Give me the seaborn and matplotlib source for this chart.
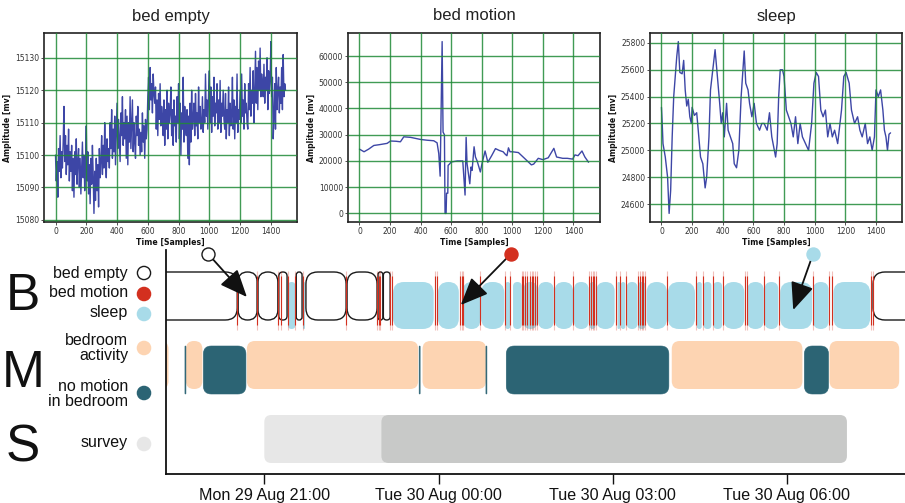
import numpy as np
import pandas as pd
import matplotlib
matplotlib.use("Agg")
import matplotlib.pyplot as plt
import matplotlib.dates as mdates
from matplotlib.patches import FancyBboxPatch
import seaborn as sns

# ------------------------------------------------------------------ data
# top panels: raw bed-sensor signals (sample index -> amplitude in mV)
EMPTY_STEP = 5
BED_EMPTY_SIG = [
    15100, 15092, 15098, 15087, 15102, 15095, 15106, 15093, 15101, 15096,
    15104, 15115, 15098, 15106, 15094, 15103, 15097, 15108, 15092, 15101,
    15095, 15103, 15089, 15099, 15087, 15101, 15094, 15105, 15091, 15098,
    15102, 15090, 15099, 15088, 15096, 15104, 15093, 15100, 15089, 15097,
    15109, 15092, 15101, 15088, 15097, 15085, 15099, 15091, 15103, 15094,
    15082, 15095, 15086, 15099, 15089, 15097, 15084, 15102, 15093, 15098,
    15106, 15094, 15103, 15096, 15110, 15099, 15093, 15105, 15098, 15102,
    15096, 15110, 15102, 15114, 15099, 15108, 15101, 15112, 15097, 15106,
    15116, 15102, 15111, 15104, 15098, 15113, 15106, 15118, 15103, 15110,
    15105, 15114, 15099, 15112, 15097, 15110, 15104, 15118, 15102, 15109,
    15117, 15101, 15110, 15104, 15099, 15112, 15106, 15115, 15103, 15108,
    15100, 15107, 15101, 15113, 15104, 15109, 15099, 15111, 15105, 15108,
    15118, 15124, 15114, 15127, 15117, 15122, 15113, 15125, 15119, 15116,
    15121, 15108, 15117, 15106, 15119, 15111, 15122, 15109, 15115, 15112,
    15106, 15117, 15103, 15114, 15108, 15120, 15105, 15116, 15110, 15113,
    15121, 15106, 15114, 15103, 15117, 15109, 15112, 15104, 15118, 15110,
    15122, 15105, 15116, 15100, 15113, 15108, 15124, 15104, 15115, 15109,
    15106, 15114, 15099, 15112, 15097, 15116, 15104, 15120, 15108, 15111,
    15116, 15106, 15119, 15109, 15113, 15105, 15121, 15110, 15115, 15108,
    15109, 15118, 15107, 15114, 15110, 15125, 15112, 15117, 15108, 15119,
    15126, 15110, 15121, 15107, 15118, 15112, 15124, 15109, 15116, 15113,
    15122, 15108, 15117, 15110, 15123, 15107, 15116, 15112, 15120, 15111,
    15108, 15119, 15105, 15114, 15110, 15121, 15106, 15116, 15109, 15113,
    15124, 15108, 15117, 15105, 15115, 15110, 15125, 15107, 15114, 15111,
    15120, 15110, 15125, 15112, 15117, 15108, 15122, 15113, 15116, 15110,
    15108, 15122, 15114, 15127, 15112, 15120, 15116, 15126, 15110, 15119,
    15132, 15116, 15127, 15114, 15129, 15120, 15133, 15118, 15125, 15122,
    15118, 15128, 15116, 15124, 15120, 15130, 15114, 15126, 15119, 15123,
    15135, 15118, 15124, 15105, 15112, 15122, 15108, 15127, 15114, 15120,
    15124, 15113, 15121, 15116, 15127, 15114, 15131, 15118, 15122, 15120,
]

BED_MOTION_T = [
    0, 30, 60, 94, 130, 181, 203, 240, 268, 290, 334, 399, 443, 486, 508,
    519, 528, 541, 547, 556, 560, 567, 570, 578, 580, 589, 600, 640, 676, 691,
    698, 704, 722, 730, 737, 750, 759, 770, 791, 802, 822, 840, 865, 890, 915,
    940, 955, 965, 975, 985, 1000, 1040, 1080, 1125, 1140, 1170, 1200, 1235,
    1272, 1290, 1330, 1360, 1395, 1410, 1430, 1456, 1475, 1499,
]
BED_MOTION_SIG = [
    24500, 23500, 24500, 25900, 26200, 26700, 27600, 27500, 27300, 29200,
    29000, 28200, 27900, 27700, 26900, 22800, 14200, 65500, 31000, 30000,
    0, 0, 7700, 7700, 18300, 18800, 19600, 20000, 20000, 7000,
    29000, 19000, 11300, 17700, 16400, 25400, 21500, 20000, 15800, 19000,
    23800, 19500, 22000, 24700, 24000, 23500, 22500, 22000, 25000, 23500,
    23500, 23200, 21000, 18500, 18800, 21000, 20500, 21200, 24800, 21500,
    21000, 21000, 20700, 22300, 22000, 23800, 21500, 19500,
]

SLEEP_T = [
    0, 5, 10, 25, 40, 50, 60, 70, 80, 100, 110, 120, 135, 145, 155, 165, 175,
    185, 195, 200, 215, 230, 240, 255, 270, 285, 295, 310, 320, 335, 350, 365,
    380, 390, 400, 410, 425, 435, 450, 465, 475, 490, 505, 520, 540, 550, 565,
    575, 590, 605, 620, 640, 655, 670, 690, 705, 720, 745, 755, 765, 775, 790,
    800, 815, 830, 845, 860, 875, 890, 905, 920, 940, 960, 980, 995, 1010,
    1025, 1040, 1055, 1070, 1085, 1100, 1115, 1130, 1150, 1175, 1190, 1205,
    1225, 1240, 1260, 1280, 1295, 1310, 1330, 1345, 1360, 1375, 1390, 1400,
    1415, 1430, 1445, 1455, 1465, 1475, 1485, 1495,
]
SLEEP_SIG = [
    25320, 25200, 25050, 24950, 24800, 24530, 24700, 25100, 25400, 25700,
    25810, 25580, 25570, 25670, 25450, 25330, 25380, 25250, 25200, 25320,
    25260, 25280, 25150, 24950, 24900, 24720, 24800, 25100, 25450, 25600,
    25750, 25550, 25350, 25200, 25280, 25100, 25350, 25150, 25100, 25050,
    24900, 24870, 25000, 25400, 25740, 25500, 25450, 25350, 25250, 25350,
    25200, 25150, 25200, 25200, 25150, 25280, 25100, 24950, 25050, 25400,
    25600, 25600, 25550, 25300, 25250, 25200, 25100, 25250, 25050, 25200,
    25100, 25050, 25000, 25200, 25500, 25580, 25550, 25300, 25250, 25300,
    25100, 25200, 25100, 25150, 25050, 25300, 25550, 25580, 25500, 25300,
    25200, 25250, 25150, 25100, 25200, 25050, 25100, 25000, 25100, 25450,
    25400, 25450, 25300, 25150, 25100, 25000, 25120, 25130,
]

PANEL_TITLES = ["bed empty", "bed motion", "sleep"]
PANEL_XTICKS = [0, 200, 400, 600, 800, 1000, 1200, 1400]
PANEL_YTICKS = [
    [15080, 15090, 15100, 15110, 15120, 15130],
    [0, 10000, 20000, 30000, 40000, 50000, 60000],
    [24600, 24800, 25000, 25200, 25400, 25600, 25800],
]

# timeline (evening Mon 29 Aug -> morning Tue 30 Aug 2016)
BED_EMPTY_SEG = [
    ("19:00", "20:32"), ("20:33", "20:52:30"), ("20:53:30", "21:14"),
    ("21:15", "21:23:30"), ("21:33", "21:39"), ("21:43", "22:24:30"),
    ("22:25:30", "22:56:30"), ("22:57:30", "23:02:30"), ("23:03", "23:10"),
    ("07:29", "08:40"),
]
SLEEP_SEG = [
    ("21:24:30", "21:32"), ("21:40", "21:42"), ("23:13", "23:55"),
    ("23:59:30", "00:21"), ("00:25:30", "00:43"), ("00:44", "01:08"),
    ("01:09", "01:14"), ("01:17", "01:26"), ("01:28", "01:42"),
    ("01:43", "01:59"), ("02:00", "02:19"), ("02:20", "02:35"),
    ("02:36", "02:42"), ("02:43", "03:02"), ("03:05", "03:07:30"),
    ("03:08:30", "03:13"), ("03:14:30", "03:25:30"), ("03:26", "03:34"),
    ("03:35", "03:56"), ("03:57", "04:25"), ("04:27", "04:32"),
    ("04:34", "04:42"), ("04:44", "04:53"), ("04:54", "05:16"),
    ("05:19", "05:36"), ("05:37", "05:51"), ("05:53", "06:26"),
    ("06:27", "06:43"), ("06:48", "07:26"),
]
MOTION_EVENTS = [
    "20:32", "20:52", "21:14:30", "21:17", "21:24", "21:32", "21:40",
    "22:24", "22:56", "22:58", "22:59:30", "23:10", "23:11:30", "23:56",
    "23:58", "00:22", "00:24", "00:25:30", "00:43", "01:08:40", "01:14",
    "01:26:30", "01:27:40", "01:29:40", "01:31:40", "01:34:50", "01:36:50",
    "01:37:50", "01:40", "01:42:10", "01:59:40", "02:19:20", "02:35:50",
    "02:37:10", "02:39:20", "02:40:40", "02:42:40", "03:03:20", "03:07:30",
    "03:13:40", "03:26:20", "03:28:10", "03:29:50", "03:31:40", "03:33:20",
    "03:55:40", "04:26", "04:33", "04:43:20", "04:53:40", "05:16:40",
    "05:18:20", "05:36:20", "05:52", "06:26:40", "06:43:50", "06:46:10",
    "07:26:50", "07:28:40",
]
BEDROOM_SEG = [
    ("19:00", "19:21"), ("19:39", "19:56"), ("20:42", "23:39"),
    ("23:43:30", "00:49"), ("04:01", "06:16"), ("06:44", "07:56"),
]
NO_MOTION_SEG = [
    ("19:38", "19:39"), ("19:57", "20:41"), ("23:40", "23:41"),
    ("00:49", "00:50"), ("01:10", "03:58"), ("06:18", "06:43"),
]
SURVEY_SEG = [("21:00", "23:10"), ("23:01", "07:02")]
SURVEY_KIND = ["awake", "asleep"]

STATE_LABELS = ["bed empty", "bed motion", "sleep", "bedroom\nactivity",
                "no motion\nin bedroom", "survey"]
GROUP_LETTERS = ["B", "M", "S"]
TICK_HOURS = [21, 0, 3, 6]
ANNOT_FROM = ["20:02", "01:14:40", "06:27"]
ANNOT_TO = ["20:42", "00:23", "06:06:30"]

# ------------------------------------------------------------------ style
LINE_C = "#3d46a6"
GRID_C = "#1f8a37"
RED = "#d3301f"
SLEEP_C = "#a8dbe9"
PEACH = "#fdd4b2"
TEAL = "#2c6474"
SURV_C = {"awake": "#e7e7e7", "asleep": "#c8c9c8"}

sns.set_theme(style="white")
plt.rcParams["font.family"] = ["Liberation Sans", "DejaVu Sans"]

W, H = 905, 503
fig = plt.figure(figsize=(W / 100, H / 100), dpi=100)
fig.patch.set_facecolor("white")


def frac(x0, y0, x1, y1):
    return [x0 / W, (H - y1) / H, (x1 - x0) / W, (y1 - y0) / H]


# ------------------------------------------------------------------ top panels
panel_boxes = [(44, 33, 297, 222), (348, 33, 600, 222), (650, 33, 902, 222)]
panel_data = [
    (np.arange(len(BED_EMPTY_SIG)) * EMPTY_STEP, BED_EMPTY_SIG),
    (np.array(BED_MOTION_T), BED_MOTION_SIG),
    (np.array(SLEEP_T), SLEEP_SIG),
]
for box, (xs, ys), title, yt in zip(panel_boxes, panel_data, PANEL_TITLES, PANEL_YTICKS):
    ax = fig.add_axes(frac(*box))
    df = pd.DataFrame({"t": xs, "v": ys})
    sns.lineplot(data=df, x="t", y="v", ax=ax, color=LINE_C, linewidth=1.0,
                 estimator=None, sort=False)
    ax.set_xticks(PANEL_XTICKS)
    ax.set_yticks(yt)
    ax.ticklabel_format(axis="y", useOffset=False, style="plain")
    ax.grid(True, color=GRID_C, linewidth=1.0, alpha=0.85)
    ax.set_axisbelow(False)
    for sp in ax.spines.values():
        sp.set_color("#222222")
        sp.set_linewidth(1.2)
    ax.tick_params(labelsize=5.5, length=2, width=0.6, pad=1.5,
                   colors="#333333", labelfontfamily="DejaVu Sans",
                   bottom=True, left=True)
    ax.set_xlabel("Time [Samples]", fontsize=5.6, fontweight="bold",
                  family="DejaVu Sans", labelpad=1.5, color="#111111")
    ax.set_ylabel("Amplitude [mv]", fontsize=5.6, fontweight="bold",
                  family="DejaVu Sans", labelpad=2, color="#111111")
    ax.set_title(title, fontsize=12, pad=9, color="#222222")

# ------------------------------------------------------------------ timeline
def tnum(s):
    h = int(s.split(":")[0])
    day = "2016-08-29" if h >= 12 else "2016-08-30"
    return mdates.date2num(pd.Timestamp(f"{day} {s}"))


axT = fig.add_axes(frac(166, 250, 905, 474))
x_lo, x_hi = tnum("19:18:25"), tnum("08:02")
axT.set_xlim(x_lo, x_hi)
axT.set_ylim(474, 250)  # rows measured downward
px_x = (x_hi - x_lo) / (905 - 166)


def rbox(t0, t1, top, h, r_px, **kw):
    x0, x1 = tnum(t0), tnum(t1)
    w = x1 - x0
    r = min(r_px * px_x, w / 2, h * px_x / 2)
    p = FancyBboxPatch((x0, top), w, h,
                       boxstyle=f"round,pad=0,rounding_size={r}",
                       mutation_aspect=1 / px_x, **kw)
    axT.add_patch(p)


# rows: (top, height)
ROW_EMPTY = (272, 48)
ROW_SLEEP = (282, 47)
ROW_BEDROOM = (341, 48)
ROW_NOMOT = (346, 48)
ROW_SURVEY = (415, 48)

for a, b in SLEEP_SEG:
    rbox(a, b, *ROW_SLEEP, 11, facecolor=SLEEP_C, edgecolor="none", zorder=2)
for a, b in BED_EMPTY_SEG:
    rbox(a, b, *ROW_EMPTY, 12, facecolor="white", edgecolor="#1a1a1a",
         linewidth=1.0, zorder=2.5)
mx = [tnum(t) for t in MOTION_EVENTS]
axT.vlines(mx, 271, 330, color=RED, linewidth=0.8, alpha=0.3, zorder=3)
axT.vlines(mx, 276, 325, color=RED, linewidth=0.8, zorder=3.5)

for a, b in BEDROOM_SEG:
    rbox(a, b, *ROW_BEDROOM, 8, facecolor=PEACH, edgecolor="none", zorder=2)
for a, b in NO_MOTION_SEG:
    rbox(a, b, *ROW_NOMOT, 8, facecolor=TEAL, edgecolor=TEAL,
         linewidth=0.4, zorder=2.2)
for (a, b), k in zip(SURVEY_SEG, SURVEY_KIND):
    rbox(a, b, *ROW_SURVEY, 7, facecolor=SURV_C[k], edgecolor="none", zorder=2)

# annotations linking the example signals to the timeline
ann_style = [("white", "#1a1a1a", 297), (RED, RED, 305), (SLEEP_C, SLEEP_C, 310)]
for (fc, ec, ty), a, b in zip(ann_style, ANNOT_FROM, ANNOT_TO):
    axT.annotate("", xy=(tnum(b), ty), xytext=(tnum(a), 254),
                 arrowprops=dict(arrowstyle="-|>,head_length=0.85,head_width=0.36",
                                 mutation_scale=20, color="#111111", lw=1.3,
                                 shrinkA=5, shrinkB=0),
                 annotation_clip=False, zorder=6)
    axT.scatter([tnum(a)], [254], s=88, facecolor=fc, edgecolor=ec,
                linewidth=1.0, clip_on=False, zorder=7)

for side in ("top", "right"):
    axT.spines[side].set_visible(False)
for side in ("left", "bottom"):
    axT.spines[side].set_color("#111111")
    axT.spines[side].set_linewidth(1.3)
axT.set_yticks([])
axT.xaxis.set_major_locator(mdates.HourLocator(byhour=TICK_HOURS))
axT.xaxis.set_major_formatter(mdates.DateFormatter("%a %d %b %H:%M"))
axT.tick_params(axis="x", bottom=True, length=7, width=1.0, color="#111111",
                labelsize=11.6, pad=3, labelcolor="#111111")

# ------------------------------------------------------------------ left legend
axL = fig.add_axes([0, 0, 166 / W, 1])
axL.set_xlim(0, 166)
axL.set_ylim(H, 0)
axL.axis("off")
for letter, base in zip(GROUP_LETTERS, [310, 387, 461]):
    axL.text(23, base, letter, fontsize=37, ha="center", va="baseline",
             color="#111111")
# baseline of the last line of each label
label_base = [278, 297, 317, 360, 406, 447]
marker_y = [273, 294, 314, 348, 393, 444]
m_face = ["white", RED, SLEEP_C, PEACH, TEAL, SURV_C["awake"]]
m_edge = ["#1a1a1a", RED, SLEEP_C, PEACH, TEAL, SURV_C["awake"]]
for lab, yb in zip(STATE_LABELS, label_base):
    axL.text(128, yb, lab, fontsize=11.5, ha="right", va="baseline",
             linespacing=1.02, color="#111111")
axL.scatter([144] * len(marker_y), marker_y, s=90, facecolor=m_face,
            edgecolor=m_edge, linewidth=1.0, clip_on=False)

fig.savefig("out.png", dpi=100, facecolor="white")
